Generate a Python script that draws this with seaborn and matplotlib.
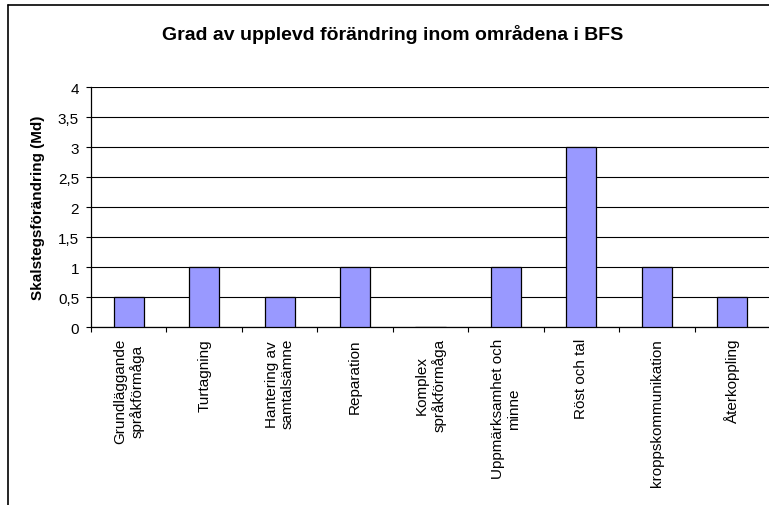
import matplotlib
matplotlib.use("Agg")
import matplotlib.pyplot as plt
from matplotlib.lines import Line2D
from matplotlib.ticker import FixedLocator, FuncFormatter
import seaborn as sns
import pandas as pd

categories = [
    "Grundläggande\nspråkförmåga",
    "Turtagning",
    "Hantering av\nsamtalsämne",
    "Reparation",
    "Komplex\nspråkförmåga",
    "Uppmärksamhet och\nminne",
    "Röst och tal",
    "kroppskommunikation",
    "Återkoppling",
]
values = [0.5, 1, 0.5, 1, 0, 1, 3, 1, 0.5]
y_ticks = [0, 0.5, 1, 1.5, 2, 2.5, 3, 3.5, 4]

sns.set_style("white")
plt.rcParams["font.family"] = ["Liberation Sans", "DejaVu Sans"]
plt.rcParams.update({"text.color": "black", "axes.labelcolor": "black",
                     "xtick.color": "black", "ytick.color": "black"})

df = pd.DataFrame({"område": categories, "värde": values})

fig = plt.figure(figsize=(7.69, 5.06), dpi=100)
ax = fig.add_axes([91 / 769, 1 - 328 / 506, (770 - 91) / 769, (328 - 88) / 506])

sns.barplot(data=df, x="område", y="värde", ax=ax, color="#9999FF",
            saturation=1, width=0.4, edgecolor="black", linewidth=0.9, zorder=3)

ax.set_ylim(0, 4)
ax.set_xlim(-0.5, len(categories) - 0.5)
ax.set_yticks(y_ticks)
ax.yaxis.set_major_formatter(FuncFormatter(lambda v, p: f"{v:g}".replace(".", ",")))
ax.yaxis.grid(True, color="black", linewidth=0.8, zorder=0)
ax.set_axisbelow(True)

for s in ["top", "right"]:
    ax.spines[s].set_visible(False)
for s in ["left", "bottom"]:
    ax.spines[s].set_color("black")
    ax.spines[s].set_linewidth(0.9)

ax.tick_params(axis="y", which="major", direction="out", length=3.6, width=0.8,
               labelsize=11, pad=5, left=True)
ax.set_xticks(range(len(categories)))
ax.set_xticklabels(categories, rotation=90, fontsize=11, ha="center", va="top",
                   multialignment="center")
ax.tick_params(axis="x", which="major", length=0, pad=8)
ax.xaxis.set_minor_locator(FixedLocator([i - 0.5 for i in range(len(categories) + 1)]))
ax.tick_params(axis="x", which="minor", direction="out", length=3.6, width=0.8,
               bottom=True)

ax.set_xlabel("")
ax.set_ylabel("Skalstegsförändring (Md)", fontsize=11, fontweight="bold")
ax.yaxis.set_label_coords((45 - 91) / 679, 0.5)

fig.text(393 / 769, 1 - 34 / 506, "Grad av upplevd förändring inom områdena i BFS",
         ha="center", va="center", fontsize=14, fontweight="bold")

# outer chart frame
fig.add_artist(Line2D([8 / 769, 8 / 769], [0, 1 - 6 / 506], transform=fig.transFigure,
                      color="black", linewidth=1.2))
fig.add_artist(Line2D([8 / 769, 1], [1 - 6 / 506, 1 - 6 / 506], transform=fig.transFigure,
                      color="black", linewidth=1.2))

fig.savefig("out.png", dpi=100)
